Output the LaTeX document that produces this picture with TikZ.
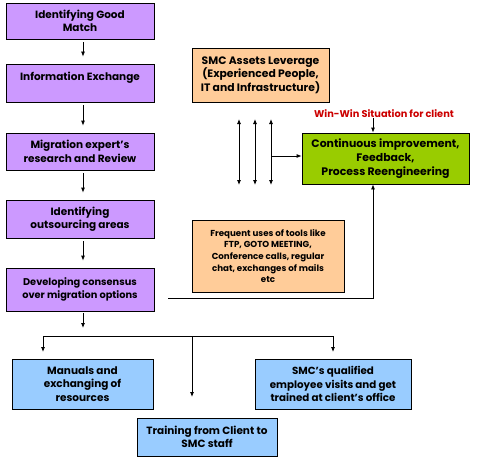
\documentclass[tikz,border=0pt]{standalone}
\usepackage{fontspec}
\setmainfont{Poppins}
\usetikzlibrary{arrows.meta}
\definecolor{purp}{HTML}{CC99FF}
\definecolor{blu}{HTML}{99CCFF}
\definecolor{org}{HTML}{FFCC99}
\definecolor{grn}{HTML}{99CC00}
\definecolor{winred}{HTML}{CC0000}
\begin{document}
\begin{tikzpicture}[x=1pt,y=-1pt,
  box/.style={draw=black, line width=0.8pt, align=center, inner sep=0pt,
    font=\bfseries\fontsize{10.5}{13.5}\selectfont},
  pbox/.style={box, fill=purp, minimum width=148pt},
  bbox/.style={box, fill=blu},
  obox/.style={box, fill=org},
  arr/.style={line width=0.8pt, -{Latex[length=5pt,width=4pt]}},
  darr/.style={line width=0.8pt, {Latex[length=5pt,width=4pt]}-{Latex[length=5pt,width=4pt]}},
  ln/.style={line width=0.8pt}]
\path[fill=white] (0,0) rectangle (492,460);
\useasboundingbox (0,0) rectangle (492,460);
% purple column
\node[pbox, minimum height=36pt] (b1) at (80,21) {Identifying Good\\Match};
\node[pbox, minimum height=38pt] (b2) at (80,83) {Information Exchange\\\mbox{}};
\node[pbox, minimum height=37pt] (b3) at (80,151.5) {Migration expert's\\research and Review};
\node[pbox, minimum height=38pt] (b4) at (80,219) {Identifying\\outsourcing areas};
\node[pbox, minimum height=43pt, font=\bfseries\fontsize{9.8}{13}\selectfont] (b5) at (80,289.5) {Developing consensus\\over migration options};
% blue
\node[bbox, minimum width=141pt, minimum height=50pt] (m) at (82.5,384) {Manuals and\\exchanging of\\resources};
\node[bbox, minimum width=156pt, minimum height=50pt, font=\bfseries\fontsize{10.3}{13.5}\selectfont] (s) at (333,384) {SMC's qualified\\employee visits and get\\trained at client's office};
\node[bbox, minimum width=140pt, minimum height=38pt] (t) at (207,437) {Training from Client to\\SMC staff};
% orange
\node[obox, minimum width=137pt, minimum height=54pt, font=\bfseries\fontsize{10.8}{13.5}\selectfont] (o1) at (260.5,75) {SMC Assets Leverage\\(Experienced People,\\IT and Infrastructure)};
\node[obox, minimum width=152pt, minimum height=72pt, font=\bfseries\fontsize{8.7}{11.7}\selectfont] (o2) at (268,256) {Frequent uses of tools like\\FTP, GOTO MEETING,\\Conference calls, regular\\chat, exchanges of mails\\etc};
% green
\node[box, fill=grn, minimum width=167pt, minimum height=51pt, font=\bfseries\fontsize{10.9}{13.7}\selectfont] (g) at (385.5,158.5) {Continuous improvement,\\Feedback,\\Process Reengineering};
\node[font=\bfseries\fontsize{9.8}{12}\selectfont, text=winred, inner sep=0pt] (w) at (384,114) {Win-Win Situation for client};
% arrows purple column
\foreach \a/\b in {b1/b2,b2/b3,b3/b4,b4/b5}
  \draw[arr, shorten <=3pt, shorten >=7pt] ([xshift=3pt]\a.south) -- ([xshift=3pt]\b.north);
\coordinate (c5) at (83,328);
\draw[arr] (83,313) -- (c5);
% branch
\coordinate (ml) at (43,336);
\coordinate (mr) at (333,336);
\coordinate (mc) at (192,336);
\draw[ln] (ml) -- (mr);
\draw[arr] (ml) -- (43,352);
\draw[arr] (mr) -- (333,352);
\draw[arr] (mc) -- (192,397);
% double arrows
\foreach \x in {239,255,271}
  \draw[darr] (\x,119) -- (\x,185);
\draw[arr] (271,156) -- (g.west |- 0,156);
% win-win arrow
\draw[arr] (w.south -| 373,0) -- (g.north -| 373,0);
% bottom feedback line
\coordinate (fb) at (168,298);
\draw[arr] (fb) -- (373,298) -- (g.south -| 373,0);
\end{tikzpicture}
\end{document}
